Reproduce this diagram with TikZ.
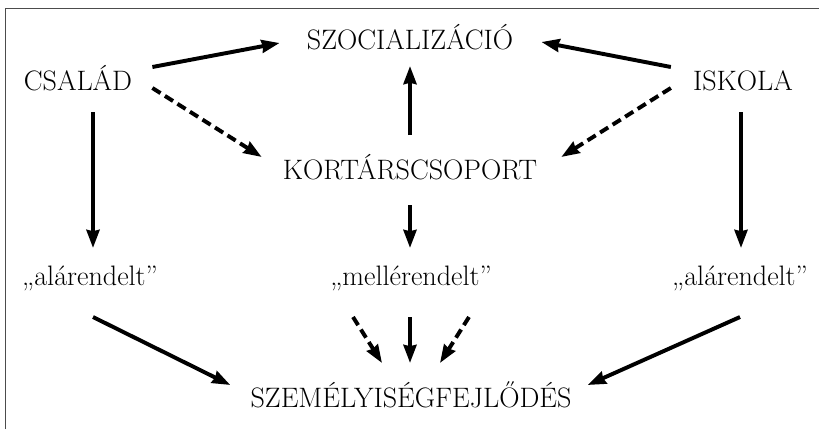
\documentclass[tikz,border=0pt]{standalone}
\usepackage{fontspec}
\usetikzlibrary{arrows.meta}
\begin{document}
\begin{tikzpicture}[x=0.025cm, y=-0.025cm,
    word/.style={anchor=base, inner sep=0pt, font=\fontsize{20}{24}\selectfont},
    arrow/.style={line width=2.8pt, -{Stealth[length=0.45cm, width=0.32cm, inset=0.03cm]}},
    dasharrow/.style={arrow, dash pattern=on 0.24cm off 0.13cm}
]
\useasboundingbox (0,0) rectangle (819,429);

% Frame
\draw[line width=1.4pt, black!70] (5.5,429) -- (5.5,8.5) -- (819,8.5);

% Top rows
\node[word] (szoc) at (410,49) {SZOCIALIZÁCIÓ};
\node[word] (csalad) at (78,90) {CSALÁD};
\node[word] (iskola) at (743,90) {ISKOLA};
\node[word] (kort) at (410,179) {KORTÁRSCSOPORT};

% Middle row
\node[word] (alar1) at (90,285) {„alárendelt”};
\node[word] (meller) at (411,285) {„mellérendelt”};
\node[word] (alar2) at (740,285) {„alárendelt”};

% Bottom row
\node[word] (szem) at (411,407) {SZEMÉLYISÉGFEJLŐDÉS};

% Arrows
\draw[arrow] ([shift={(20,-23)}]csalad.base east) -- ([shift={(-27,-6)}]szoc.base west);
\draw[dasharrow] ([shift={(20,-2)}]csalad.base east) -- ([shift={(-21,-22)}]kort.base west);
\draw[arrow] ([shift={(15,22)}]csalad.base) -- ([shift={(3,-37)}]alar1.base);

\draw[arrow] ([shift={(-22,-23)}]iskola.base west) -- ([shift={(28,-7)}]szoc.base east);
\draw[dasharrow] ([shift={(-22,-2)}]iskola.base west) -- ([shift={(24,-22)}]kort.base east);
\draw[arrow] ([shift={(-2,22)}]iskola.base) -- ([shift={(1,-37)}]alar2.base);

\draw[arrow] ([shift={(0,-44)}]kort.base) -- ([shift={(0,17)}]szoc.base);
\draw[arrow] ([shift={(0,26)}]kort.base) -- ([shift={(-1,-37)}]meller.base);

\draw[arrow] ([shift={(3,32)}]alar1.base) -- ([shift={(-20,-22)}]szem.base west);
\draw[arrow] ([shift={(0,32)}]alar2.base) -- ([shift={(16,-22)}]szem.base east);
\draw[arrow] ([shift={(-1,32)}]meller.base) -- ([shift={(-1,-44)}]szem.base);
\draw[dasharrow] ([shift={(-58,32)}]meller.base) -- ([shift={(-29,-44)}]szem.base);
\draw[dasharrow] ([shift={(58,32)}]meller.base) -- ([shift={(29,-44)}]szem.base);

\end{tikzpicture}
\end{document}
